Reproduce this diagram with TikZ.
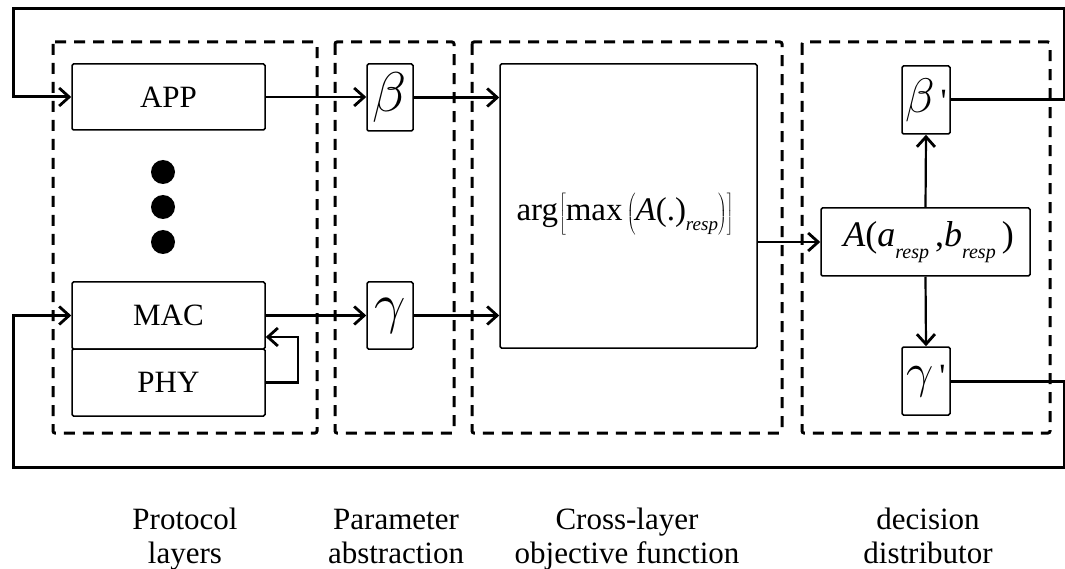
\documentclass[tikz,border=0pt]{standalone}
\usepackage{fontspec}
\setmainfont{Liberation Serif}
\usetikzlibrary{arrows.meta,calc}
\newcommand\subtxt[2]{\raisebox{-0.32em}{\fontsize{#1}{#1}\selectfont\textit{#2}}}
\newcommand\bigmath[2][2.25]{\scalebox{#1}{$#2$}}
\begin{document}
\begin{tikzpicture}[x=1pt,y=-1pt,
  blk/.style={draw, line width=1.5pt, rounded corners=1.5pt, inner sep=0pt, font=\fontsize{31}{34}\selectfont},
  dbox/.style={draw, line width=3pt, dash pattern=on 11pt off 8pt, rounded corners=2pt},
  arr/.style={line width=2.2pt, -{Straight Barb[length=10pt,width=18pt,line width=2.8pt]}},
  fb/.style={line width=3pt},
  lab/.style={font=\fontsize{31}{34}\selectfont, anchor=base, inner sep=0pt},
  greek/.style={font=\fontsize{34}{40}\selectfont}
]
\useasboundingbox (0,0) rectangle (1065,569);

% dashed groups
\draw[dbox] (53,42) rectangle (317,433);
\draw[dbox] (335,42) rectangle (454,433);
\draw[dbox] (472,42) rectangle (782,433);
\draw[dbox] (802,42) rectangle (1050,433);

% protocol layers
\node[blk, minimum width=193pt, minimum height=66pt] (app) at (168.5,97) {APP};
\node[blk, minimum width=193pt, minimum height=67pt] (mac) at (168.5,315.5) {MAC};
\node[blk, minimum width=193pt, minimum height=67pt] (phy) at (168.5,382.5) {PHY};
\fill (163,172) circle[radius=12pt];
\fill (163,207) circle[radius=12pt];
\fill (163,242) circle[radius=12pt];

% parameters
\node[blk, greek, minimum width=46pt, minimum height=67pt] (beta) at (390,97.5) {\bigmath{\beta}};
\node[blk, greek, minimum width=46pt, minimum height=67pt] (gamma) at (390,315.5) {\bigmath{\gamma}};

% objective
\node[blk, minimum width=257pt, minimum height=284pt] (obj) at (628.5,206) {};
\node[font=\fontsize{33}{36}\selectfont, inner sep=0pt] (formula) at (625,214)
  {arg\kern1pt$\left[\mbox{max}\left(\rule[-11pt]{0pt}{38pt}\mbox{\textit{A}(.)\subtxt{19}{resp}}\right)\right]$};

% decision
\node[blk, font=\fontsize{36}{40}\selectfont, minimum width=209pt, minimum height=68pt] (a) at (925.5,242)
  {\hspace*{6pt}\textit{A}(\textit{a}\subtxt{20}{resp}\,,\textit{b}\subtxt{20}{resp}\,)};
\node[blk, greek, minimum width=48pt, minimum height=68pt] (betap) at (926,100) {\bigmath[1.95]{\beta}\,\textquotesingle};
\node[blk, greek, minimum width=48pt, minimum height=68pt] (gammap) at (926,381) {\bigmath[1.95]{\gamma}\,\textquotesingle};

% coordinates
\coordinate (tl) at (13,9);
\coordinate (tr) at (1064,9);
\coordinate (bl) at (13,467);
\coordinate (br) at (1064,467);
\coordinate (lp) at (298,337);

% connectors
\draw[arr] (app.east) -- (app.east -| beta.west);
\draw[arr] (beta.east) -- (beta.east -| obj.west);
\draw[arr] (mac.east) -- (mac.east -| gamma.west);
\draw[arr] (gamma.east) -- (gamma.east -| obj.west);
\draw[arr] (obj.east |- a.west) -- (a.west);
\draw[arr] (a.north) -- (betap.south);
\draw[arr] (a.south) -- (gammap.north);
\draw[arr] (phy.east) -| (lp) -- (lp -| mac.east);

% feedback loops
\draw[arr, fb] (betap.east) -- (betap.east -| tr) -- (tr) -- (tl) -- (tl |- app.west) -- (app.west);
\draw[arr, fb] (gammap.east) -- (gammap.east -| br) -- (br) -- (bl) -- (bl |- mac.west) -- (mac.west);

% labels
\node[lab] (l1a) at (185,529) {Protocol};
\node[lab] (l1b) at (185,563) {layers};
\node[lab] (l2a) at (396,529) {Parameter};
\node[lab] (l2b) at (396,563) {abstraction};
\node[lab] (l3a) at (627,529) {Cross-layer};
\node[lab] (l3b) at (627,563) {objective function};
\node[lab] (l4a) at (928,529) {decision};
\node[lab] (l4b) at (928,563) {distributor};
\end{tikzpicture}
\end{document}
